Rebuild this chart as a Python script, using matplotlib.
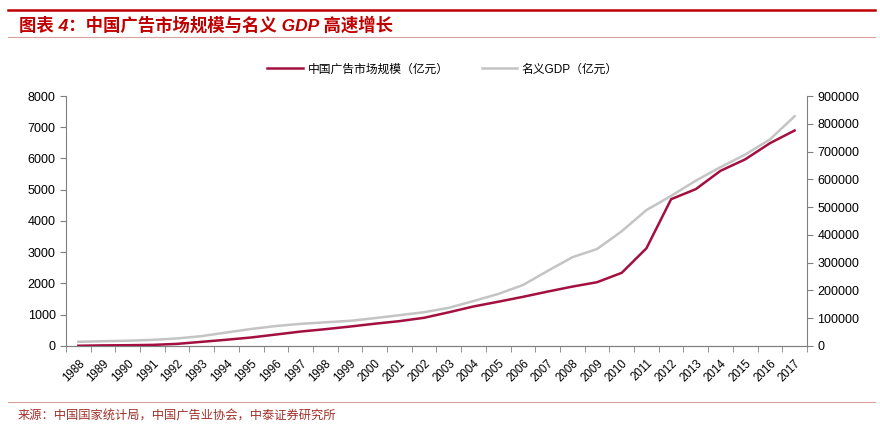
import matplotlib.pyplot as plt
from matplotlib.lines import Line2D

plt.rcParams['font.family'] = ['Liberation Sans', 'Noto Sans CJK SC', 'DejaVu Sans']

years = [str(y) for y in range(1988, 2018)]
ad_market = [8, 20, 25, 35, 68, 134, 200, 273, 367, 462, 538, 622, 713, 795, 903,
             1079, 1265, 1416, 1573, 1741, 1900, 2041, 2341, 3126, 4698, 5020, 5606,
             5973, 6489, 6896]
gdp = [15180, 17180, 18873, 22006, 27195, 35673, 48638, 61340, 71814, 79715, 85196,
       90564, 100280, 110863, 121717, 137422, 161840, 187319, 219439, 270232, 319516,
       349081, 413030, 489301, 540367, 595244, 643974, 689052, 743586, 827122]

red = '#A3103F'
gray = '#C4C4C4'
axis_gray = '#808080'

fig = plt.figure(figsize=(8.8, 4.28), dpi=100)

# header / footer lines and texts
fig.add_artist(Line2D([0.009, 0.994], [0.977, 0.977], color='#C00000', lw=1.8))
fig.add_artist(Line2D([0.009, 0.994], [0.914, 0.914], color='#D9A0A0', lw=0.8))
fig.text(0.022, 0.943, '图表 4：中国广告市场规模与名义 GDP 高速增长', color='#C00000',
         fontsize=12.5, fontweight='bold', style='italic', va='center')
fig.add_artist(Line2D([0.009, 0.994], [0.061, 0.061], color='#D9A0A0', lw=0.8))
fig.text(0.02, 0.028, '来源：中国国家统计局，中国广告业协会，中泰证券研究所', color='#A0302A',
         fontsize=8.8, va='center')

ax = fig.add_axes([0.075, 0.1916, 0.842, 0.5841])
x = list(range(len(years)))
ax.plot(x, ad_market, color=red, lw=1.8, label='中国广告市场规模（亿元）', zorder=3)
ax.set_ylim(0, 8000)
ax.set_yticks(range(0, 8001, 1000))
ax.set_xlim(-0.5, len(years) - 0.5)

ax2 = ax.twinx()
ax2.plot(x, gdp, color=gray, lw=1.8, label='名义GDP（亿元）', zorder=2)
ax2.set_ylim(0, 900000)
ax2.set_yticks(range(0, 900001, 100000))
ax.set_zorder(ax2.get_zorder() + 1)
ax.patch.set_visible(False)

ax.set_xticks(x)
ax.set_xticklabels(years, rotation=45, ha='right', rotation_mode='anchor', fontsize=8.3)
ax.set_xticks([i - 0.5 for i in range(len(years) + 1)], minor=True)
ax.tick_params(axis='x', which='major', length=0, pad=8)
ax.tick_params(axis='x', which='minor', length=4, color=axis_gray, direction='out')
ax.tick_params(axis='y', length=4, color=axis_gray, labelsize=9)
ax2.tick_params(axis='y', length=4, color=axis_gray, labelsize=9)

for a in (ax, ax2):
    a.spines['top'].set_visible(False)
    for s in ('left', 'right', 'bottom'):
        a.spines[s].set_color(axis_gray)
        a.spines[s].set_linewidth(0.8)
ax.spines['right'].set_visible(False)
ax2.spines['left'].set_visible(False)

h1, l1 = ax.get_legend_handles_labels()
h2, l2 = ax2.get_legend_handles_labels()
fig.legend(h1 + h2, l1 + l2, loc='center', bbox_to_anchor=(0.503, 0.838), ncol=2,
           frameon=False, fontsize=8.5, handlelength=3.0, handletextpad=0.4,
           columnspacing=2.8)

fig.savefig('out.png', dpi=100)
